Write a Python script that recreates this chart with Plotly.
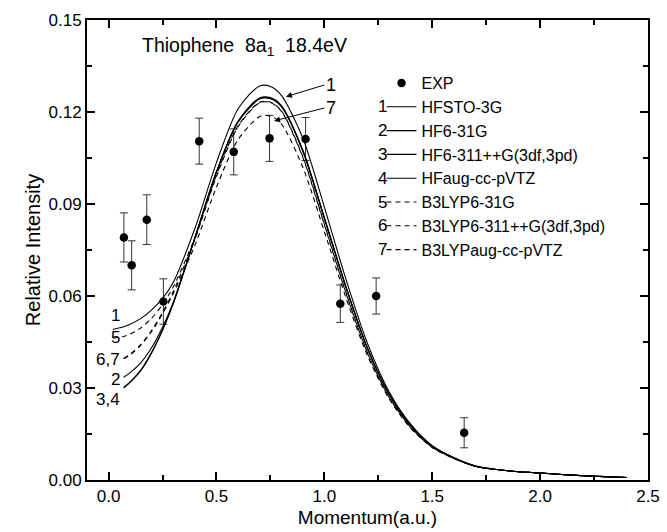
import plotly.graph_objects as go

exp_x = [0.071, 0.107, 0.177, 0.254, 0.42, 0.58, 0.746, 0.913, 1.074, 1.240, 1.648]
exp_y = [0.0791, 0.0700, 0.0849, 0.0582, 0.1105, 0.1070, 0.1114, 0.1112, 0.0575, 0.0600, 0.0154]
exp_err = [0.0080, 0.0080, 0.0081, 0.0074, 0.0075, 0.0075, 0.0075, 0.0070, 0.0061, 0.0059, 0.0049]

# momentum grids for the theory curves
mom = [0.07, 0.10, 0.15, 0.20, 0.25, 0.30, 0.40, 0.50, 0.60, 0.70, 0.75, 0.80, 0.90,
       1.00, 1.10, 1.20, 1.30, 1.40, 1.50, 1.60, 1.70, 1.80, 1.90, 2.00, 2.10, 2.20, 2.30, 2.40]
mom_long = [0.02] + mom

hf_sto3g = [0.0491, 0.0500, 0.0508, 0.0527, 0.0555, 0.0592, 0.0645, 0.0820, 0.1035, 0.1210,
            0.1285, 0.1283, 0.1255, 0.1115, 0.0890, 0.0655, 0.0445, 0.0288, 0.0182, 0.0112,
            0.0073, 0.0046, 0.0034, 0.0027, 0.0023, 0.0018, 0.0014, 0.0011, 0.0008]
hf_631g = [0.0335, 0.0350, 0.0383, 0.0432, 0.0498, 0.0580, 0.0790, 0.1005, 0.1170, 0.1245,
           0.1245, 0.1220, 0.1075, 0.0855, 0.0630, 0.0430, 0.0280, 0.0178, 0.0110, 0.0072,
           0.0045, 0.0034, 0.0027, 0.0023, 0.0018, 0.0014, 0.0011, 0.0008]
hf_6311 = [0.0300, 0.0318, 0.0357, 0.0415, 0.0488, 0.0575, 0.0788, 0.1003, 0.1167, 0.1242,
           0.1243, 0.1218, 0.1072, 0.0852, 0.0628, 0.0428, 0.0279, 0.0177, 0.0110, 0.0072,
           0.0045, 0.0034, 0.0027, 0.0023, 0.0018, 0.0014, 0.0011, 0.0008]
hf_aug = [0.0302, 0.0320, 0.0359, 0.0417, 0.0490, 0.0577, 0.0790, 0.1005, 0.1170, 0.1246,
          0.1247, 0.1222, 0.1076, 0.0856, 0.0631, 0.0430, 0.0280, 0.0178, 0.0110, 0.0072,
          0.0045, 0.0034, 0.0027, 0.0023, 0.0018, 0.0014, 0.0011, 0.0008]
b3_631g = [0.0462, 0.0468, 0.0476, 0.0496, 0.0528, 0.0572, 0.0630, 0.0790, 0.0995, 0.1155,
           0.1232, 0.1232, 0.1205, 0.1055, 0.0835, 0.0612, 0.0415, 0.0270, 0.0172, 0.0107,
           0.0071, 0.0045, 0.0034, 0.0027, 0.0023, 0.0018, 0.0014, 0.0011, 0.0008]
b3_6311 = [0.0397, 0.0410, 0.0442, 0.0488, 0.0546, 0.0615, 0.0785, 0.0990, 0.1152, 0.1230,
           0.1231, 0.1203, 0.1052, 0.0832, 0.0610, 0.0414, 0.0270, 0.0172, 0.0107, 0.0071,
           0.0045, 0.0034, 0.0027, 0.0023, 0.0018, 0.0014, 0.0011, 0.0008]
b3_aug = [0.0395, 0.0408, 0.0440, 0.0485, 0.0542, 0.0608, 0.0765, 0.0955, 0.1110, 0.1185,
          0.1187, 0.1162, 0.1020, 0.0810, 0.0595, 0.0405, 0.0265, 0.0169, 0.0106, 0.0070,
          0.0045, 0.0034, 0.0027, 0.0023, 0.0018, 0.0014, 0.0011, 0.0008]

curve_names = ["HFSTO-3G", "HF6-31G", "HF6-311++G(3df,3pd)", "HFaug-cc-pVTZ",
               "B3LYP6-31G", "B3LYP6-311++G(3df,3pd)", "B3LYPaug-cc-pVTZ"]
curve_x = [mom_long, mom, mom, mom, mom_long, mom, mom]
curve_y = [hf_sto3g, hf_631g, hf_6311, hf_aug, b3_631g, b3_6311, b3_aug]
curve_dash = ["solid"] * 4 + ["5px,4px"] * 3

# labels at the left end of the curves
end_labels = ["1", "5", "6,7", "2", "3,4"]
end_label_y = [0.0538, 0.0464, 0.0394, 0.0328, 0.0262]

FONT = "Liberation Sans, Arial, sans-serif"
LEG_FONT = 16

fig = go.Figure()

fig.add_trace(go.Scatter(
    x=exp_x, y=exp_y, mode="markers", name="EXP",
    marker=dict(color="black", size=8.5),
    error_y=dict(type="data", array=exp_err, color="#333333", thickness=1, width=4),
    legendgroup="g0"))

for i in range(7):
    fig.add_trace(go.Scatter(
        x=curve_x[i], y=curve_y[i], mode="lines", name=curve_names[i],
        line=dict(color="black", width=1.1, dash=curve_dash[i], shape="spline", smoothing=0.8),
        legendgroup="g%d" % (i + 1)))

# curve numbers at the left
for lab, yy in zip(end_labels, end_label_y):
    fig.add_annotation(x=0.062, y=yy, text=lab, showarrow=False, xanchor="right",
                       yanchor="middle", font=dict(size=17, color="black", family=FONT))

# title inside the frame
fig.add_annotation(x=0.147, y=0.1413, xanchor="left", yanchor="middle", showarrow=False,
                   text="Thiophene&nbsp;&nbsp;8a<sub>1</sub>&nbsp;&nbsp;18.4eV",
                   font=dict(size=19.5, color="black", family=FONT))

# arrows marking curves 1 and 7
fig.add_annotation(x=0.822, y=0.1250, ax=1.0, ay=0.1288, axref="x", ayref="y",
                   text="1", xanchor="left", showarrow=True, arrowhead=2, arrowsize=1.2,
                   arrowwidth=1, arrowcolor="black", font=dict(size=18, color="black", family=FONT))
fig.add_annotation(x=0.767, y=0.1171, ax=1.0, ay=0.1213, axref="x", ayref="y",
                   text="7", xanchor="left", showarrow=True, arrowhead=2, arrowsize=1.2,
                   arrowwidth=1, arrowcolor="black", font=dict(size=18, color="black", family=FONT))

# numbers in front of the legend entries
row_h = LEG_FONT * 1.3 + 3
for k in range(7):
    ypx = 83 + row_h * (k + 1)
    fig.add_annotation(xref="paper", yref="paper", x=(389 - 87.3) / 560.2, y=(480 - ypx) / 460,
                       text=str(k + 1), showarrow=False, xanchor="right", yanchor="middle",
                       font=dict(size=17, color="black", family=FONT))

axis_common = dict(
    showline=True, linecolor="black", linewidth=2, mirror="allticks",
    ticks="inside", ticklen=8, tickwidth=1.5, tickcolor="black",
    showgrid=False, zeroline=False, automargin=False,
    tickfont=dict(size=17, color="black", family=FONT),
)

fig.update_xaxes(range=[-0.1, 2.5], dtick=0.5, tick0=0, tickformat=".1f",
                 minor=dict(dtick=0.25, ticks="inside", ticklen=5, tickwidth=1.5, tickcolor="black"),
                 title=dict(text="Momentum(a.u.)", standoff=5,
                            font=dict(size=19, color="black", family=FONT)),
                 **axis_common)
fig.update_yaxes(range=[0, 0.15], dtick=0.03, tick0=0, tickformat=".2f",
                 minor=dict(dtick=0.015, ticks="inside", ticklen=5, tickwidth=1.5, tickcolor="black"),
                 title=dict(text="Relative Intensity", standoff=3,
                            font=dict(size=20, color="black", family=FONT)),
                 **axis_common)

fig.update_layout(
    width=667, height=532,
    margin=dict(l=87, r=19, t=20, b=52),
    plot_bgcolor="white", paper_bgcolor="white",
    font=dict(family=FONT, color="black"),
    legend=dict(x=0.525, y=(480 - 66.1) / 460, xanchor="left", yanchor="top",
                bgcolor="rgba(0,0,0,0)",
                font=dict(size=LEG_FONT, color="black", family=FONT), tracegroupgap=0),
)

# drop the default page margin so the figure sits at the window's corner
fig.write_html("out.html", config={"displayModeBar": False},
               post_script="document.body.style.margin='0px';")
